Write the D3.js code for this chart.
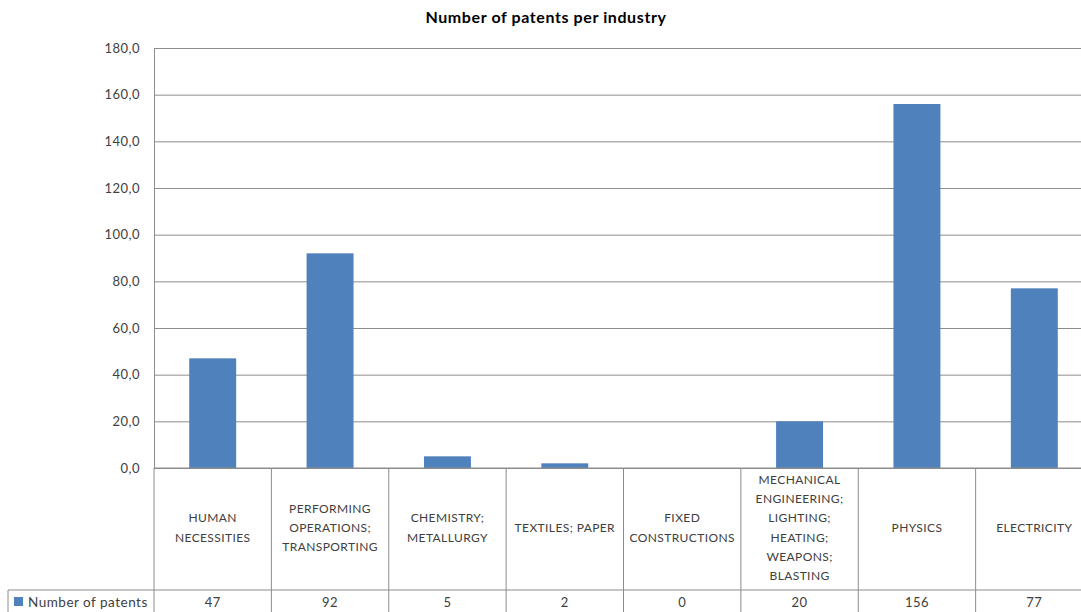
<!DOCTYPE html>
<html>
<head>
<meta charset="utf-8">
<script src="https://cdn.jsdelivr.net/npm/d3@7"></script>
<style>
  html, body { margin: 0; padding: 0; background: #fff; }
  svg { display: block; font-family: Lato, "Open Sans", sans-serif; }
</style>
</head>
<body>
<svg id="chart" width="1081" height="612"></svg>
<script>
// Patent counts per industry section
const categories = [
  "HUMAN\nNECESSITIES",
  "PERFORMING\nOPERATIONS;\nTRANSPORTING",
  "CHEMISTRY;\nMETALLURGY",
  "TEXTILES; PAPER",
  "FIXED\nCONSTRUCTIONS",
  "MECHANICAL\nENGINEERING;\nLIGHTING;\nHEATING;\nWEAPONS;\nBLASTING",
  "PHYSICS",
  "ELECTRICITY"
];
const patents = [47, 92, 5, 2, 0, 20, 156, 77];
const yTicks = [0, 20, 40, 60, 80, 100, 120, 140, 160, 180];
const seriesName = "Number of patents";
const title = "Number of patents per industry";

const svg = d3.select("#chart");
const plotLeft = 154, plotTop = 48, plotBottom = 468, plotRight = 1093;
const rowBottom = 590, dataRowBottom = 616;
const gridColor = "#8c8c8c";
const textColor = "#404040";
const barColor = "#4f81bd";

const x = d3.scaleBand().domain(d3.range(categories.length)).range([plotLeft, plotRight]).paddingInner(0.6).paddingOuter(0.3);
const xBand = d3.scaleBand().domain(d3.range(categories.length)).range([plotLeft, plotRight]);
const y = d3.scaleLinear().domain([0, 180]).range([plotBottom, plotTop]);
const fmt = v => d3.format(".1f")(v).replace(".", ",");

// Title
svg.append("text")
  .attr("x", 546).attr("y", 23)
  .attr("text-anchor", "middle")
  .attr("font-size", 16).attr("font-weight", "bold")
  .attr("letter-spacing", 0.6)
  .attr("fill", "#000")
  .text(title);

// Gridlines and value axis
const yAxis = d3.axisLeft(y).tickValues(yTicks).tickSize(-(plotRight - plotLeft)).tickFormat(fmt).tickPadding(14);
const gy = svg.append("g").attr("transform", `translate(${plotLeft},0)`).call(yAxis);
gy.select(".domain").attr("stroke", gridColor);
gy.selectAll(".tick line").attr("stroke", gridColor);
gy.selectAll(".tick text")
  .attr("fill", textColor).attr("font-size", 13).attr("letter-spacing", 0.5)
  .attr("font-family", "Lato, sans-serif");

// Bars
svg.append("g").selectAll("rect")
  .data(patents)
  .join("rect")
  .attr("x", (d, i) => x(i))
  .attr("width", x.bandwidth())
  .attr("y", d => y(d))
  .attr("height", d => y(0) - y(d))
  .attr("fill", barColor);

// Data table: category row
const table = svg.append("g").attr("stroke", gridColor).attr("fill", "none");
table.append("line").attr("x1", plotLeft).attr("x2", plotRight).attr("y1", plotBottom).attr("y2", plotBottom);
table.append("line").attr("x1", 8).attr("x2", plotRight).attr("y1", rowBottom).attr("y2", rowBottom);
table.append("line").attr("x1", 8).attr("x2", 8).attr("y1", rowBottom).attr("y2", dataRowBottom);
table.selectAll("line.sep")
  .data(d3.range(categories.length + 1))
  .join("line")
  .attr("class", "sep")
  .attr("x1", i => i < categories.length ? xBand(i) : plotRight)
  .attr("x2", i => i < categories.length ? xBand(i) : plotRight)
  .attr("y1", plotBottom).attr("y2", dataRowBottom);

const lineH = 19.2;
const labelCenter = 528;
svg.append("g").selectAll("text")
  .data(categories)
  .join("text")
  .attr("text-anchor", "middle")
  .attr("font-size", 12)
  .attr("letter-spacing", 0.4)
  .attr("fill", textColor)
  .each(function(d, i) {
    const lines = d.split("\n");
    const cx = xBand(i) + xBand.bandwidth() / 2;
    const y0 = labelCenter - (lines.length - 1) * lineH / 2 + 4;
    d3.select(this).selectAll("tspan")
      .data(lines)
      .join("tspan")
      .attr("x", cx)
      .attr("y", (l, k) => y0 + k * lineH)
      .text(l => l);
  });

// Data table: values row
svg.append("g").selectAll("text")
  .data(patents)
  .join("text")
  .attr("x", (d, i) => xBand(i) + xBand.bandwidth() / 2)
  .attr("y", 607)
  .attr("text-anchor", "middle")
  .attr("font-size", 13)
  .attr("letter-spacing", 0.5)
  .attr("fill", textColor)
  .text(d => d);

// Legend key in the table header cell
svg.append("rect").attr("x", 14).attr("y", 597).attr("width", 9).attr("height", 9).attr("fill", barColor);
svg.append("text")
  .attr("x", 28).attr("y", 607)
  .attr("font-size", 13.5)
  .attr("letter-spacing", 0.5)
  .attr("fill", textColor)
  .text(seriesName);
</script>
</body>
</html>
